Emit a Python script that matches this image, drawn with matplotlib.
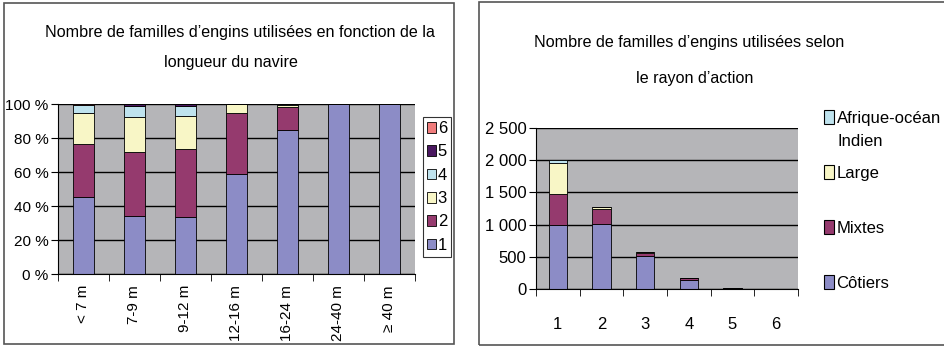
import numpy as np
import matplotlib
matplotlib.use("Agg")
import matplotlib.pyplot as plt
from matplotlib.patches import Rectangle, Patch

plt.rcParams['font.family'] = ['Liberation Sans', 'DejaVu Sans']
plt.rcParams['font.size'] = 11

# left chart: share (%) of gear-family counts by vessel length
longueurs = ['< 7 m', '7-9 m', '9-12 m', '12-16 m', '16-24 m', '24-40 m', '≥ 40 m']
familles = ['1', '2', '3', '4', '5', '6']
pct = {
    '1': [45.5, 34.2, 33.3, 58.7, 84.7, 100, 100],
    '2': [31.0, 37.4, 40.1, 36.0, 13.3, 0, 0],
    '3': [18.2, 20.8, 19.6, 5.3, 1.6, 0, 0],
    '4': [4.5, 6.2, 6.0, 0, 0.4, 0, 0],
    '5': [0.5, 1.2, 0.8, 0, 0, 0, 0],
    '6': [0.3, 0.2, 0.2, 0, 0, 0, 0],
}

# right chart: counts by number of gear families and fishing range
nb_familles = ['1', '2', '3', '4', '5', '6']
rayons = ['Côtiers', 'Mixtes', 'Large', 'Afrique-océan']
effectifs = {
    'Côtiers': [990, 1015, 515, 140, 5, 0],
    'Mixtes': [490, 222, 45, 25, 5, 0],
    'Large': [480, 36, 15, 0, 0, 0],
    'Afrique-océan': [40, 0, 0, 0, 0, 0],
}

couleurs = {'1': '#8c8cc6', '2': '#953a6e', '3': '#f8f6c6', '4': '#bfe3ee',
            '5': '#4a1860', '6': '#f07c7c'}
couleurs_r = {'Côtiers': '#8c8cc6', 'Mixtes': '#953a6e', 'Large': '#f8f6c6',
              'Afrique-océan': '#bfe3ee'}
fond = '#b5b5b8'

W, H = 945, 346
fig = plt.figure(figsize=(W / 100, H / 100), dpi=100)

# panel frames
fig.patches.append(Rectangle((4 / W, 1 - 344 / H), 450 / W, 341 / H, transform=fig.transFigure,
                             fill=False, edgecolor='#555555', lw=1.2))
fig.patches.append(Rectangle((479 / W, 1 - 345 / H), 480 / W, 343 / H, transform=fig.transFigure,
                             fill=False, edgecolor='#555555', lw=1.2))


def style_axes(ax):
    ax.set_facecolor(fond)
    ax.spines['top'].set_visible(False)
    ax.spines['right'].set_visible(False)
    ax.spines['left'].set_color('black')
    ax.spines['bottom'].set_color('black')
    ax.yaxis.grid(True, color='black', lw=1)
    ax.set_axisbelow(True)
    ax.tick_params(axis='x', which='major', length=0)
    ax.tick_params(axis='x', which='minor', length=5, direction='out')
    ax.tick_params(axis='y', length=5, direction='out', pad=2)


# ---- left chart ----
ax1 = fig.add_axes([58 / W, 1 - 274 / H, 357 / W, 170 / H])
style_axes(ax1)
x = np.arange(len(longueurs))
bas = np.zeros(len(longueurs))
for f in familles:
    ax1.bar(x, pct[f], 0.4, bottom=bas, color=couleurs[f], edgecolor='black', lw=0.6, label=f)
    bas += np.array(pct[f])
ax1.set_xlim(-0.5, len(longueurs) - 0.5)
ax1.set_ylim(0, 100)
ax1.set_yticks(range(0, 101, 20))
ax1.set_yticklabels([f'{v} %' for v in range(0, 101, 20)])
ax1.set_xticks(x)
ax1.set_xticklabels(longueurs, rotation=90, va='top')
ax1.set_xticks(np.arange(-0.5, len(longueurs)), minor=True)
ax1.tick_params(axis='x', which='major', pad=8)
h1, l1 = ax1.get_legend_handles_labels()
leg1 = ax1.legend(h1[::-1], l1[::-1], loc='upper left', bbox_to_anchor=(423 / W, 1 - 117 / H),
                  bbox_transform=fig.transFigure, frameon=True, fancybox=False,
                  edgecolor='black', handlelength=0.55, handleheight=0.6, handletextpad=0.08,
                  labelspacing=0.5, borderpad=0.25, borderaxespad=0, fontsize=12)
leg1.get_frame().set_linewidth(0.8)
fig.text(240 / W, 1 - 33 / H, 'Nombre de familles d’engins utilisées en fonction de la',
         ha='center', va='center', fontsize=11.6)
fig.text(231 / W, 1 - 63 / H, 'longueur du navire', ha='center', va='center', fontsize=11.6)

# ---- right chart ----
ax2 = fig.add_axes([536 / W, 1 - 289 / H, 262 / W, 161 / H])
style_axes(ax2)
ax2.tick_params(axis='y', labelsize=12)
x2 = np.arange(len(nb_familles))
bas = np.zeros(len(nb_familles))
for r in rayons:
    ax2.bar(x2, effectifs[r], 0.42, bottom=bas, color=couleurs_r[r], edgecolor='black', lw=0.6)
    bas += np.array(effectifs[r])
ax2.set_xlim(-0.5, len(nb_familles) - 0.5)
ax2.set_ylim(0, 2500)
ax2.set_yticks(range(0, 2501, 500))
ax2.set_yticklabels([f'{v:,}'.replace(',', ' ') for v in range(0, 2501, 500)])
ax2.set_xticks(x2)
ax2.set_xticklabels(nb_familles, fontsize=12)
ax2.set_xticks(np.arange(-0.5, len(nb_familles)), minor=True)
ax2.tick_params(axis='x', which='major', pad=20)
h2 = [Patch(facecolor=couleurs_r[r], edgecolor='black', lw=0.8) for r in rayons[::-1]]
ax2.legend(h2, rayons[::-1], loc='upper left', bbox_to_anchor=(824 / W, 1 - 110 / H),
           bbox_transform=fig.transFigure, frameon=False, handlelength=0.6,
           handleheight=0.9, handletextpad=0.15, labelspacing=2.36, borderpad=0,
           borderaxespad=0, fontsize=12)
fig.text(838 / W, 1 - 142 / H, 'Indien', ha='left', va='center', fontsize=12)
fig.text(689 / W, 1 - 43 / H, 'Nombre de familles d’engins utilisées selon',
         ha='center', va='center', fontsize=11.6)
fig.text(695 / W, 1 - 78 / H, 'le rayon d’action', ha='center', va='center', fontsize=11.6)

fig.savefig('out.png', dpi=100)
